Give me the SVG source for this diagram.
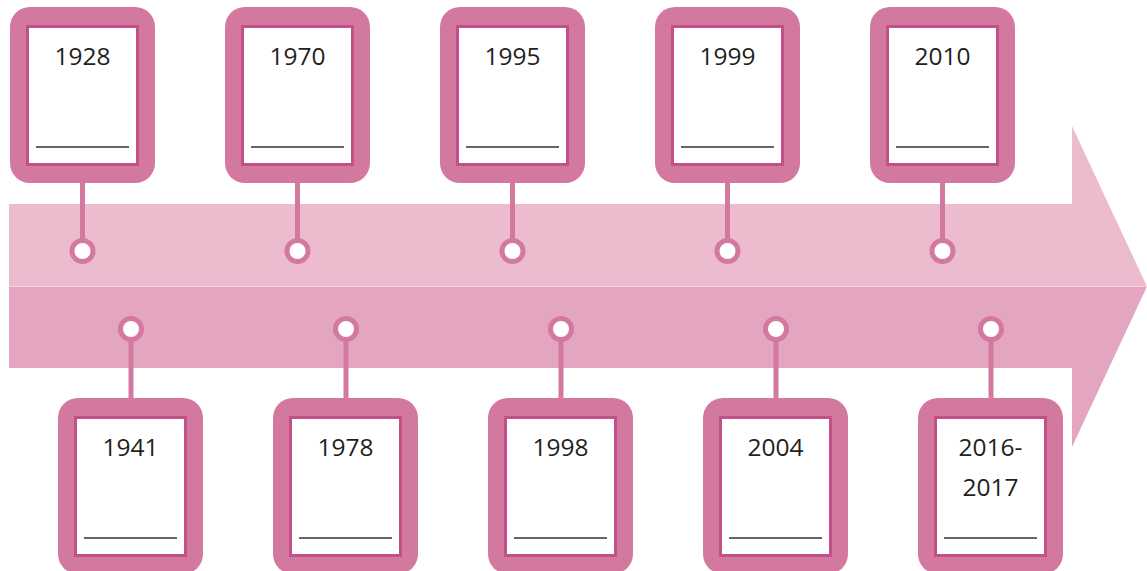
<svg xmlns="http://www.w3.org/2000/svg" width="1147" height="571" viewBox="0 0 1147 571">
<style>
.outer{fill:#d3799f}
.inner{fill:#fff;stroke:#c4508a;stroke-width:3}
.ul{stroke:#333;stroke-width:1.5}
.yr{font-family:"Open Sans","Noto Sans",sans-serif;font-size:24.5px;fill:#231f20;text-anchor:middle}
.stem{stroke:#d3799f;stroke-width:5;fill:none}
.dot{fill:#fff;stroke:#d3799f;stroke-width:5}
</style>
<defs>
<g id="box">
<rect class="outer" x="0" y="0" width="145" height="176" rx="20"/>
<rect class="inner" x="17.5" y="19.5" width="110" height="138"/>
<line class="ul" x1="26" y1="140" x2="119" y2="140"/>
</g>
</defs>
<g id="arrow">
<polygon points="9,204 1072,204 1072,126 1147,286.5 9,286.5" fill="#ecbbce"/>
<polygon points="9,286.5 1147,286.5 1072,447 1072,368 9,368" fill="#e3a5bf"/>
<line x1="9" y1="286.5" x2="1147" y2="286.5" stroke="#f2d3de" stroke-width="1"/>
</g>
<g id="connectors">
<line class="stem" x1="82.5" y1="183" x2="82.5" y2="241"/>
<line class="stem" x1="297.5" y1="183" x2="297.5" y2="241"/>
<line class="stem" x1="512.5" y1="183" x2="512.5" y2="241"/>
<line class="stem" x1="727.5" y1="183" x2="727.5" y2="241"/>
<line class="stem" x1="942.5" y1="183" x2="942.5" y2="241"/>
<circle class="dot" cx="82.5" cy="251" r="10.5"/>
<circle class="dot" cx="297.5" cy="251" r="10.5"/>
<circle class="dot" cx="512.5" cy="251" r="10.5"/>
<circle class="dot" cx="727.5" cy="251" r="10.5"/>
<circle class="dot" cx="942.5" cy="251" r="10.5"/>
<line class="stem" x1="131" y1="339" x2="131" y2="399"/>
<line class="stem" x1="346" y1="339" x2="346" y2="399"/>
<line class="stem" x1="561" y1="339" x2="561" y2="399"/>
<line class="stem" x1="776" y1="339" x2="776" y2="399"/>
<line class="stem" x1="991" y1="339" x2="991" y2="399"/>
<circle class="dot" cx="131" cy="329" r="10.5"/>
<circle class="dot" cx="346" cy="329" r="10.5"/>
<circle class="dot" cx="561" cy="329" r="10.5"/>
<circle class="dot" cx="776" cy="329" r="10.5"/>
<circle class="dot" cx="991" cy="329" r="10.5"/>
</g>
<g id="n1928" transform="translate(10,7)"><use href="#box"/><text class="yr" x="72.5" y="58">1928</text></g>
<g id="n1970" transform="translate(225,7)"><use href="#box"/><text class="yr" x="72.5" y="58">1970</text></g>
<g id="n1995" transform="translate(440,7)"><use href="#box"/><text class="yr" x="72.5" y="58">1995</text></g>
<g id="n1999" transform="translate(655,7)"><use href="#box"/><text class="yr" x="72.5" y="58">1999</text></g>
<g id="n2010" transform="translate(870,7)"><use href="#box"/><text class="yr" x="72.5" y="58">2010</text></g>
<g id="n1941" transform="translate(58,398)"><use href="#box"/><text class="yr" x="72.5" y="58">1941</text></g>
<g id="n1978" transform="translate(273,398)"><use href="#box"/><text class="yr" x="72.5" y="58">1978</text></g>
<g id="n1998" transform="translate(488,398)"><use href="#box"/><text class="yr" x="72.5" y="58">1998</text></g>
<g id="n2004" transform="translate(703,398)"><use href="#box"/><text class="yr" x="72.5" y="58">2004</text></g>
<g id="n2016" transform="translate(918,398)"><use href="#box"/><text class="yr" x="72.5" y="58">2016-</text><text class="yr" x="72.5" y="98">2017</text></g>
</svg>
